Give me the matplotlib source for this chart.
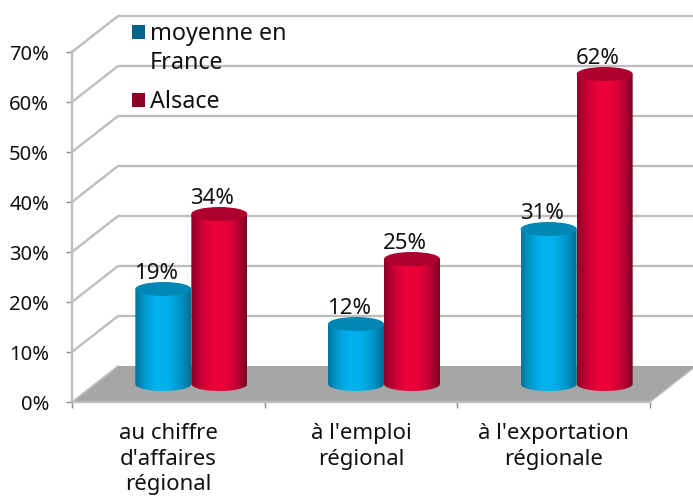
#!/usr/bin/env python3
"""Cylinder chart: regional share of foreign firms, Alsace against France."""

import matplotlib

matplotlib.use("Agg")
import matplotlib.pyplot as plt
import numpy as np
from matplotlib.colors import LinearSegmentedColormap
from matplotlib.patches import Ellipse, PathPatch, Rectangle
from matplotlib.path import Path

categories = ["au chiffre\nd'affaires\nrégional", "à l'emploi\nrégional", "à l'exportation\nrégionale"]
france = [19, 12, 31]
alsace = [34, 25, 62]
y_ticks = [0, 10, 20, 30, 40, 50, 60, 70]

W, H = 693, 498
ink = "#111111"
grid = "#BEBEBE"
blue_map = LinearSegmentedColormap.from_list("b", ["#00769C", "#00A0D8", "#00B4F0", "#00B0EC", "#0098CC", "#006F94"])
red_map = LinearSegmentedColormap.from_list("r", ["#8E0028", "#D00036", "#EC0038", "#E80038", "#C80034", "#7E0024"])
blue_top = "#0087B4"
red_top = "#AE002C"

plt.rcParams["font.family"] = ["Noto Sans", "DejaVu Sans"]
fig = plt.figure(figsize=(W / 100, H / 100), dpi=100, facecolor="white")
ax = fig.add_axes([72 / W, (H - 402) / H, (650 - 72) / W, 350 / H])
ax.set_facecolor("none")

# depth of the fake 3D box, in data units
dx, dy = 46 / (578 / 3), 36 / 5
bar_w, cap_h = 56 / (578 / 3), 14 / 5


def cylinder(xc, value, cmap, top):
    left, right = xc - bar_w / 2, xc + bar_w / 2
    base, head = dy / 2, dy / 2 + value
    t = np.linspace(np.pi, 2 * np.pi, 40)
    arc_x = xc + bar_w / 2 * np.cos(t)
    arc_y = base + cap_h / 2 * np.sin(t)
    verts = list(zip(arc_x, arc_y)) + [(right, head), (left, head), (left, base)]
    codes = [Path.MOVETO] + [Path.LINETO] * (len(verts) - 2) + [Path.CLOSEPOLY]
    outline = PathPatch(Path(verts, codes), facecolor="none", edgecolor="none", clip_on=False)
    ax.add_patch(outline)
    img = ax.imshow(
        np.linspace(0, 1, 64).reshape(1, -1),
        cmap=cmap,
        extent=(left, right, base - cap_h, head),
        aspect="auto",
        zorder=3,
        clip_on=True,
    )
    img.set_clip_path(outline)
    ax.add_patch(Ellipse((xc, head), bar_w, cap_h, facecolor=top, edgecolor="none", zorder=3.1, clip_on=False))
    ax.annotate(
        f"{value}%",
        (xc, head),
        xytext=(-5, 11.5),
        textcoords="offset points",
        ha="center",
        va="center",
        fontsize=16,
        color=ink,
        zorder=4,
        annotation_clip=False,
    )


# floor and walls
ax.fill([0, 3, 3 + dx, dx], [0, 0, dy, dy], color="#A6A6A6", zorder=1, clip_on=False, lw=0)
ax.plot([3, 3 + dx], [0, dy], color=grid, lw=1, zorder=1, clip_on=False)
for tick in y_ticks[1:]:
    ax.plot([0, dx, 3 + 2 * dx], [tick, tick + dy, tick + dy], color=grid, lw=1.7, zorder=1, clip_on=False)
ax.plot([0, dx], [0, dy], color=grid, lw=1.2, zorder=1, clip_on=False)

for i in range(len(categories)):
    centre = i + 0.5 + dx / 2
    cylinder(centre - bar_w / 2, france[i], blue_map, blue_top)
    cylinder(centre + bar_w / 2, alsace[i], red_map, red_top)

ax.set_xlim(0, 3)
ax.set_ylim(0, 70)
for side in ["top", "right"]:
    ax.spines[side].set_visible(False)
for side in ["left", "bottom"]:
    ax.spines[side].set_color(grid)
    ax.spines[side].set_linewidth(1.7)
    ax.spines[side].set_zorder(2)

ax.set_yticks(y_ticks)
ax.set_yticklabels([f"{t}%" for t in y_ticks], fontsize=14.5, color=ink)
ax.set_xticks([0, 1, 2, 3])
ax.set_xticklabels([])
ax.set_xticks([0.5, 1.5, 2.5], minor=True)
ax.set_xticklabels(categories, minor=True, fontsize=16, color=ink, linespacing=1.3)
ax.tick_params(axis="y", length=4.5, width=1, color="#8C8C8C", pad=12)
ax.tick_params(axis="x", which="major", length=4.5, width=1, color="#8C8C8C")
ax.tick_params(axis="x", which="minor", length=0, pad=15)

# legend, placed by hand over the back wall as in the original
for name, colour, y_px in [("moyenne en\nFrance", "#00648A", 32), ("Alsace", "#8E0024", 100)]:
    fig.add_artist(Rectangle((132 / W, 1 - (y_px + 7) / H), 13 / W, 14 / H, transform=fig.transFigure, facecolor=colour, edgecolor="none"))
    fig.text(150 / W, 1 - (y_px - 10) / H, name, fontsize=16.8, color=ink, va="top", ha="left", linespacing=1.27)

fig.savefig("out.png", dpi=100, facecolor="white")
